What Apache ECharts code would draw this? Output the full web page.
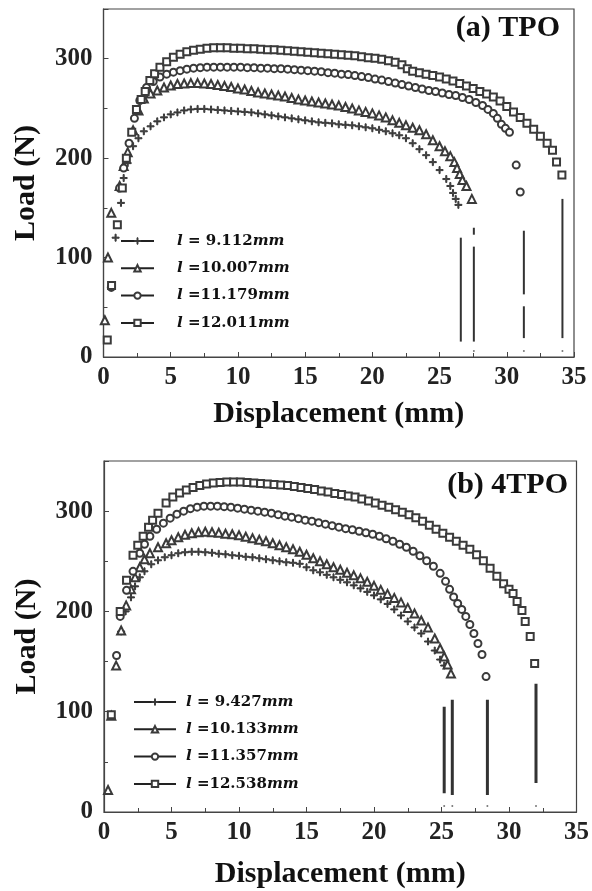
<!DOCTYPE html>
<html>
<head>
<meta charset="utf-8">
<script src="https://cdn.jsdelivr.net/npm/echarts@6/dist/echarts.min.js"></script>
<style>
  html, body { margin: 0; padding: 0; background: #fff; }
  #chart { width: 592px; height: 891px; }
</style>
</head>
<body>
<div id="chart"></div>
<script>
// (a) TPO  -- [displacement mm, load N]
const labelsA = ['9.112', '10.007', '11.179', '12.011']
const plusA = [[0.9,120],[1.3,155],[1.5,180],[1.8,195],[2.2,212],[2.6,220],[3.0,227],[3.5,232],[4.0,237],[4.5,241],[5.0,244],[5.5,246],[6.0,248],[6.5,249],[7.0,249.5],[7.5,249.5],[8.0,249],[8.5,248.5],[9.0,248],[9.5,247.5],[10,247],[10.5,246.5],[11,246],[11.5,245],[12,244],[12.5,243],[13,242],[13.5,241],[14,240],[14.5,239],[15,238],[15.5,237],[16,236],[16.5,235.5],[17,235],[17.5,234],[18,233.5],[18.5,233],[19,232],[19.5,231],[20,230],[20.5,228.5],[21,227],[21.5,225],[22,223],[22.5,220],[23,215],[23.5,209],[24,203],[24.5,196],[25,188],[25.5,179],[25.8,172],[26.0,165],[26.2,159],[26.4,153]]
const triA = [[0.1,37],[0.33,100],[0.58,145],[1.2,172],[1.5,192],[1.8,206],[2.2,228],[2.6,248],[3.0,260],[3.5,265],[4.0,268],[4.5,271],[5.0,273],[5.5,274.5],[6.0,275],[6.5,275.5],[7.0,275.5],[7.5,275],[8.0,274.5],[8.5,273.5],[9.0,272.5],[9.5,271.5],[10,270],[10.5,269],[11,267.5],[11.5,266],[12,265],[12.5,264],[13,263],[13.5,262],[14,260.5],[14.5,259],[15,258],[15.5,257],[16,256],[16.5,255],[17,254],[17.5,253],[18,251.5],[18.5,250],[19,248],[19.5,246.5],[20,245],[20.5,243],[21,241],[21.5,238],[22,235.5],[22.5,233],[23,230.5],[23.5,228],[24,224],[24.5,218],[25,212],[25.4,207],[25.8,202],[26.1,196],[26.3,190],[26.5,184],[26.7,178],[27.0,172],[27.4,159]]
const circA = [[0.58,70],[1.2,170],[1.5,190],[1.9,215],[2.3,240],[2.7,258],[3.2,271],[3.7,277],[4.2,281.5],[4.7,284.5],[5.2,286.5],[5.7,288],[6.2,289.5],[6.7,290.5],[7.2,291],[7.7,291.5],[8.2,291.5],[8.7,291.5],[9.2,291.5],[9.7,291.5],[10.2,291.5],[10.7,291],[11.2,291],[11.7,290.5],[12.2,290.5],[12.7,290],[13.2,290],[13.7,289.5],[14.2,289],[14.7,288.5],[15.2,288],[15.7,287.5],[16.2,287],[16.7,286],[17.2,285.5],[17.7,284.5],[18.2,284],[18.7,283],[19.2,282],[19.7,281],[20.2,279.5],[20.7,278.5],[21.2,277],[21.7,275.5],[22.2,274],[22.7,272.5],[23.2,271],[23.7,269.5],[24.2,268],[24.7,267],[25.2,265.5],[25.7,264],[26.2,263],[26.7,261],[27.2,259],[27.7,256],[28.2,253],[28.6,249],[29.0,245],[29.3,240],[29.6,234],[29.9,230],[30.2,226],[30.7,193],[31.0,166]]
const sqA = [[0.28,17],[0.6,72],[1.03,133],[1.4,170],[1.7,200],[2.1,226],[2.45,249],[2.8,259],[3.1,267],[3.45,278],[3.8,285],[4.2,291.5],[4.7,297],[5.2,301.5],[5.7,304.5],[6.2,307],[6.7,308.5],[7.2,309.5],[7.7,310.5],[8.2,311],[8.7,311],[9.2,311],[9.7,310.5],[10.2,310.5],[10.7,310],[11.2,310],[11.7,309.5],[12.2,309],[12.7,309],[13.2,308.5],[13.7,308],[14.2,307.5],[14.7,307],[15.2,306.5],[15.7,306],[16.2,305.5],[16.7,305],[17.2,304.5],[17.7,304],[18.2,303.5],[18.7,303],[19.2,302],[19.7,301],[20.2,300.5],[20.7,299.5],[21.2,298],[21.7,296.5],[22.2,294],[22.6,290],[23.0,287.5],[23.5,286],[24.0,284.5],[24.5,283],[25.0,281.5],[25.5,279.5],[26.0,277.5],[26.5,275],[27.0,272.5],[27.5,270],[28.0,267],[28.5,264.5],[29.0,261.5],[29.5,257.5],[30.0,252],[30.5,246.5],[31.0,241],[31.5,235],[32.0,229],[32.5,222],[33.0,215],[33.4,208],[33.7,196],[34.1,183]]
// fracture markers: [x, yFrom, yTo]
const fracA = [[26.58,15.5,120],[27.55,15.5,111],[27.55,123,130],[31.27,19,51],[31.27,63,127],[34.14,19,159]]
const dotsA = [[27.55,6],[31.27,6],[34.14,6]]

// (b) 4TPO
const labelsB = ['9.427', '10.133', '11.357', '12.538']
const plusB = [[1.27,180],[1.6,200],[2.0,214],[2.3,225],[2.65,234],[3.0,240],[3.5,247],[4.0,251],[4.5,254],[5.0,256],[5.5,258],[6.0,259],[6.5,259.5],[7.0,259.5],[7.5,259],[8.0,258.5],[8.5,257.5],[9.0,257],[9.5,256],[10,255.5],[10.5,254.5],[11,254],[11.5,253],[12,252],[12.5,251],[13,250],[13.5,249],[14,248.5],[14.5,247.5],[15,244],[15.5,241],[16,239],[16.5,236.5],[17,234],[17.5,231.5],[18,229],[18.5,226],[19,223],[19.5,219.5],[20,216],[20.5,212],[21,207.5],[21.5,202],[22,196],[22.5,190],[23,184],[23.5,178],[24,170],[24.5,161],[24.9,152],[25.2,146]]
const triB = [[0.3,22],[0.54,96],[0.9,146],[1.27,181],[1.64,206],[2.0,222],[2.3,234],[2.65,244],[3.0,252],[3.4,258],[4.0,264],[4.6,268],[5.0,271],[5.5,274],[6.0,276.5],[6.5,278],[7.0,279],[7.5,279.5],[8.0,279],[8.5,278.5],[9.0,277.5],[9.5,277],[10,276],[10.5,274.5],[11,273],[11.5,271.5],[12,270],[12.5,268],[13,266],[13.5,264],[14,262],[14.5,259.5],[15,256.5],[15.5,253],[16,250],[16.5,247],[17,244],[17.5,241.5],[18,238.5],[18.5,236],[19,233],[19.5,229.5],[20,225.5],[20.5,221.5],[21,217.5],[21.5,213.5],[22,209],[22.5,203.5],[23,198],[23.5,191],[24,184],[24.5,173],[24.9,163],[25.2,155],[25.45,147],[25.7,138]]
const circB = [[0.93,156],[1.2,195],[1.67,221],[2.15,240],[2.65,258],[3.0,267],[3.4,275],[3.9,282],[4.4,288],[4.9,293],[5.4,297],[5.9,300],[6.4,302.5],[6.9,304],[7.4,305],[7.9,305],[8.4,305],[8.9,304.5],[9.4,304],[9.9,303],[10.4,302],[10.9,301],[11.4,300],[11.9,299],[12.4,298],[12.9,296.5],[13.4,295],[13.9,294],[14.4,292.5],[14.9,291],[15.4,290],[15.9,288.5],[16.4,287],[16.9,285.5],[17.4,284],[17.9,282.5],[18.4,281.5],[18.9,280],[19.4,278.5],[19.9,277],[20.4,275],[20.9,272.5],[21.4,270],[21.9,267],[22.4,264],[22.9,260],[23.4,255.5],[23.9,250.5],[24.4,245],[24.9,238],[25.3,230],[25.6,222],[25.9,214.5],[26.2,208],[26.5,202],[26.8,195],[27.1,187],[27.4,178],[27.7,168],[28.0,157],[28.3,135]]
const sqB = [[0.54,97],[1.2,200],[1.67,231],[2.15,256],[2.5,266],[2.9,275],[3.3,284],[3.6,291],[4.0,298],[4.6,308],[5.1,314],[5.6,318],[6.1,321],[6.6,323.5],[7.1,325.5],[7.6,327],[8.1,328],[8.6,328.5],[9.1,329],[9.6,329],[10.1,329],[10.6,328.5],[11.1,328],[11.6,327.5],[12.1,327],[12.6,326.5],[13.1,326],[13.6,325.5],[14.1,324.5],[14.6,323.5],[15.1,322.5],[15.6,321.5],[16.1,320],[16.6,319],[17.1,317.5],[17.6,316.5],[18.1,315],[18.6,314],[19.1,312],[19.6,310],[20.1,308],[20.6,306],[21.1,304],[21.6,301.5],[22.1,299],[22.6,296.5],[23.1,293.5],[23.6,290],[24.1,286],[24.6,282],[25.1,278],[25.6,274],[26.1,270],[26.6,266],[27.1,262],[27.6,256.5],[28.1,250.5],[28.6,243],[29.1,235],[29.6,227.5],[30.0,222],[30.3,218],[30.6,210],[30.96,201],[31.2,190],[31.57,175],[31.9,148]]
const fracB = [[25.2,18.6,105],[25.8,17,112],[28.4,17,112],[32.0,29,128]]
const dotsB = [[25.2,6],[25.8,6],[28.4,6],[32.0,6]]

const PLUS = 'path://M4.25,0h1.5v4.25h4.25v1.5h-4.25v4.25h-1.5v-4.25h-4.25v-1.5h4.25z'
const symbols = [PLUS, 'emptyTriangle', 'emptyCircle', 'emptyRect']
const sizes = [7, 8, 7, 7]
const serif = 'Liberation Serif'
const ink = '#3a3a3a'

function nameOf (v) {
  return 'l ' + (v.length < 6 ? '= ' : '=') + v + 'mm'
}

const option = {
  animation: false,
  backgroundColor: '#fff',
  title: [
    { text: '(a) TPO', right: 27, top: 8, padding: 5,
      textStyle: { fontFamily: serif, fontWeight: 'bold', fontSize: 30, color: '#111' } },
    { text: '(b) 4TPO', right: 19, top: 465, padding: 5,
      textStyle: { fontFamily: serif, fontWeight: 'bold', fontSize: 30, color: '#111' } }
  ],
  grid: [
    { left: 103.5, top: 9, right: 18, height: 348, show: true, borderColor: '#444', borderWidth: 1.2 },
    { left: 104, top: 461, right: 12.5, height: 351, show: true, borderColor: '#444', borderWidth: 1.2 }
  ],
  legend: [],
  xAxis: [],
  yAxis: [],
  series: []
}

const panels = [
  { labels: labelsA, data: [plusA, triA, circA, sqA], frac: fracA, dots: dotsA, fracWidth: 2, nameGap: 42,
    legend: { left: 115, top: 228, itemWidth: 33, pad: 18 } },
  { labels: labelsB, data: [plusB, triB, circB, sqB], frac: fracB, dots: dotsB, fracWidth: 3, nameGap: 47,
    legend: { left: 128, top: 689, itemWidth: 42, pad: 5 } }
]

panels.forEach((p, i) => {
  option.xAxis.push({
    type: 'value', gridIndex: i, min: 0, max: 35, interval: 5,
    name: 'Displacement (mm)', nameLocation: 'middle', nameGap: p.nameGap,
    nameTextStyle: { fontFamily: serif, fontWeight: 'bold', fontSize: 30, color: '#111' },
    axisLine: { show: true, lineStyle: { color: '#444', width: 1.2 } },
    axisTick: { show: true, inside: true, length: 5, lineStyle: { color: '#444' } },
    minorTick: { show: true, splitNumber: 2, length: 4, lineStyle: { color: '#444' } },
    splitLine: { show: false },
    axisLabel: { fontFamily: serif, fontWeight: 'bold', fontSize: 25, color: '#222', margin: 8 }
  })
  option.yAxis.push({
    type: 'value', gridIndex: i, min: 0, max: 350, interval: 100,
    name: 'Load (N)', nameLocation: 'middle', nameGap: 62, nameRotate: 90,
    nameTextStyle: { fontFamily: serif, fontWeight: 'bold', fontSize: 30, color: '#111' },
    axisLine: { show: true, lineStyle: { color: '#444', width: 1.2 } },
    axisTick: { show: true, inside: true, length: 5, lineStyle: { color: '#444' } },
    minorTick: { show: true, splitNumber: 2, length: 4, lineStyle: { color: '#444' } },
    splitLine: { show: false },
    axisLabel: { fontFamily: serif, fontWeight: 'bold', fontSize: 25, color: '#222', margin: 11, showMaxLabel: false }
  })

  const names = p.labels.map(nameOf)
  p.data.forEach((d, k) => {
    option.series.push({
      name: names[k], type: 'line', xAxisIndex: i, yAxisIndex: i,
      data: d, symbol: symbols[k], symbolSize: sizes[k], showSymbol: true,
      lineStyle: { opacity: 0 },
      itemStyle: { color: ink, borderColor: ink, borderWidth: 1 },
      emphasis: { disabled: true }, z: 3 + k
    })
  })
  p.frac.forEach(f => {
    option.series.push({
      type: 'line', xAxisIndex: i, yAxisIndex: i, symbol: 'none',
      data: [[f[0], f[1]], [f[0], f[2]]],
      lineStyle: { color: '#333', width: p.fracWidth }, emphasis: { disabled: true }
    })
  })
  option.series.push({
    type: 'scatter', xAxisIndex: i, yAxisIndex: i, data: p.dots,
    symbol: 'circle', symbolSize: 2, itemStyle: { color: '#555' }
  })

  option.legend.push({
    data: names, orient: 'vertical', selectedMode: false,
    left: p.legend.left, top: p.legend.top, padding: 5,
    itemWidth: p.legend.itemWidth, itemHeight: 8, itemGap: 11.3,
    lineStyle: { width: 2, opacity: 1, color: '#222' },
    itemStyle: { borderWidth: 1 },
    formatter: n => {
      const m = n.match(/^l (=\s?[\d.]+)mm$/)
      return '{sp| }{i|l}{b| ' + m[1] + '}{i|mm}'
    },
    textStyle: {
      lineHeight: 16,
      rich: {
        sp: { width: p.legend.pad, fontSize: 15 },
        i: { fontFamily: 'DejaVu Serif', fontStyle: 'italic', fontWeight: 'bold', fontSize: 15, color: '#111' },
        b: { fontFamily: 'DejaVu Serif', fontWeight: 'bold', fontSize: 15, color: '#111' }
      }
    }
  })
})

const chart = echarts.init(document.getElementById('chart'), null, { renderer: 'canvas' })
chart.setOption(option)
</script>
</body>
</html>
